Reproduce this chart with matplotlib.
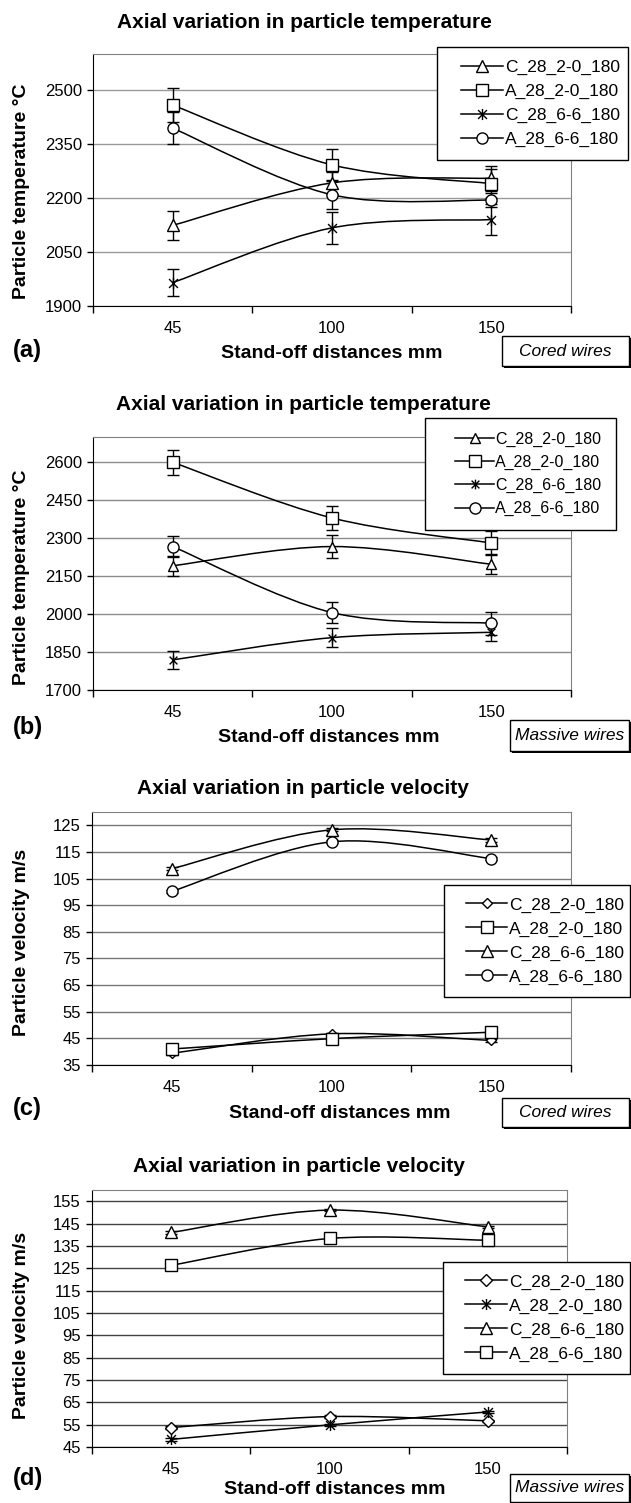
import matplotlib
matplotlib.use('Agg')
import matplotlib.pyplot as plt
from matplotlib.path import Path
from matplotlib.patches import PathPatch, Rectangle
from matplotlib.lines import Line2D

plt.rcParams['font.family'] = ['Liberation Sans', 'DejaVu Sans']

W, H = 631, 1503

distances = ['45', '100', '150']

# (a) temperature, cored wires
a_names = ['C_28_2-0_180', 'A_28_2-0_180', 'C_28_6-6_180', 'A_28_6-6_180']
a_values = [[2124, 2242, 2255], [2458, 2292, 2240], [1965, 2117, 2140], [2394, 2209, 2194]]
a_errors = [[41, 30, 35], [48, 44, 40], [38, 44, 44], [45, 40, 20]]
a_yticks = [1900, 2050, 2200, 2350, 2500]

# (b) temperature, massive wires
b_names = ['C_28_2-0_180', 'A_28_2-0_180', 'C_28_6-6_180', 'A_28_6-6_180']
b_values = [[2191, 2267, 2197], [2600, 2380, 2281], [1819, 1907, 1928], [2267, 2006, 1964]]
b_errors = [[40, 46, 40], [50, 47, 47], [36, 38, 35], [43, 40, 45]]
b_yticks = [1700, 1850, 2000, 2150, 2300, 2450, 2600]

# (c) velocity, cored wires
c_names = ['C_28_2-0_180', 'A_28_2-0_180', 'C_28_6-6_180', 'A_28_6-6_180']
c_values = [[39.4, 46.7, 44.2], [41.0, 44.9, 47.3], [108.7, 123.3, 119.5], [100.2, 118.8, 112.5]]
c_errors = [[0.5, 0.5, 0.5], [0.5, 0.5, 0.5], [0.6, 0.6, 0.6], [0.6, 0.6, 0.6]]
c_yticks = [35, 45, 55, 65, 75, 85, 95, 105, 115, 125]

# (d) velocity, massive wires
d_names = ['C_28_2-0_180', 'A_28_2-0_180', 'C_28_6-6_180', 'A_28_6-6_180']
d_values = [[53.7, 58.6, 56.7], [48.4, 54.9, 60.7], [141.0, 151.0, 143.5], [126.3, 138.3, 137.5]]
d_errors = [[0.5, 0.5, 0.5], [0.5, 0.5, 0.5], [0.6, 0.6, 0.6], [0.6, 0.6, 0.6]]
d_yticks = [45, 55, 65, 75, 85, 95, 105, 115, 125, 135, 145, 155]

# Excel-style star: an X with a vertical bar through it
STAR = Path([(0, -1), (0, 1), (-0.8, -0.8), (0.8, 0.8), (-0.8, 0.8), (0.8, -0.8)],
            [Path.MOVETO, Path.LINETO, Path.MOVETO, Path.LINETO, Path.MOVETO, Path.LINETO])


def fx(px):
    return px / W


def fy(py):
    return 1 - py / H


def smooth_path(xs, ys):
    # Excel-like smoothed line: cubic bezier through every point
    pts = list(zip(xs, ys))
    n = len(pts)
    verts = [pts[0]]
    codes = [Path.MOVETO]
    for i in range(n - 1):
        p0 = pts[i - 1] if i > 0 else pts[i]
        p1 = pts[i]
        p2 = pts[i + 1]
        p3 = pts[i + 2] if i + 2 < n else pts[i + 1]
        c1 = (p1[0] + (p2[0] - p0[0]) / 6, p1[1] + (p2[1] - p0[1]) / 6)
        c2 = (p2[0] - (p3[0] - p1[0]) / 6, p2[1] - (p3[1] - p1[1]) / 6)
        verts += [c1, c2, p2]
        codes += [Path.CURVE4] * 3
    return Path(verts, codes)


def px_box(fig, l, t, r, b, zorder, shadow=False):
    if shadow:
        fig.patches.append(Rectangle((fx(l + 2), fy(b + 2)), fx(r - l), (b - t) / H,
                                     transform=fig.transFigure, facecolor='black',
                                     edgecolor='none', figure=fig, zorder=zorder - 0.5))
    fig.patches.append(Rectangle((fx(l), fy(b)), fx(r - l), (b - t) / H,
                                 transform=fig.transFigure, facecolor='white',
                                 edgecolor='black', lw=1.0, figure=fig, zorder=zorder))


def draw_panel(fig, box, title, title_pos, ylabel, ylabel_pos, xlabel_pos,
               letter, letter_y, note, note_box, names, values, errors,
               markers, msizes, yticks, ylim, legend_box, legend_fs, grid_color):
    l, t, r, b = box
    ax = fig.add_axes([fx(l), fy(b), fx(r - l), (b - t) / H])
    x = list(range(len(distances)))
    handles = []
    for name, vals, errs, mk, ms in zip(names, values, errors, markers, msizes):
        ax.add_patch(PathPatch(smooth_path(x, vals), fill=False, edgecolor='black',
                               lw=1.1, zorder=3))
        ax.errorbar(x, vals, yerr=errs, fmt='none', ecolor='black', elinewidth=1.0,
                    capsize=4, capthick=1.0, zorder=4)
        ax.plot(x, vals, linestyle='none', marker=mk, ms=ms, mfc='white',
                mec='black', mew=1.0, zorder=5)
        handles.append(Line2D([], [], color='black', lw=1.1, marker=mk, ms=ms,
                              mfc='white', mec='black', mew=1.0, label=name))
    ax.set_xlim(-0.5, len(distances) - 0.5)
    ax.set_ylim(*ylim)
    ax.set_yticks(yticks)
    ax.set_xticks(x)
    ax.set_xticklabels(distances)
    ax.set_xticks([-0.5, 0.5, 1.5, 2.5], minor=True)
    ax.tick_params(axis='x', which='major', length=0, pad=11, labelsize=12)
    ax.tick_params(axis='x', which='minor', length=5, direction='out', width=1)
    ax.tick_params(axis='y', length=4, direction='out', width=1, labelsize=12, pad=4)
    ax.yaxis.grid(True, color=grid_color, lw=1.0)
    ax.set_axisbelow(True)
    for side in ['top', 'right']:
        ax.spines[side].set_color('#808080')
    for side in ['left', 'bottom']:
        ax.spines[side].set_color('black')

    fig.text(fx(title_pos[0]), fy(title_pos[1]), title, ha='center', va='center',
             fontsize=15, fontweight='bold')
    fig.text(fx(ylabel_pos[0]), fy(ylabel_pos[1]), ylabel, ha='center', va='center',
             rotation=90, fontsize=14, fontweight='bold')
    fig.text(fx(xlabel_pos[0]), fy(xlabel_pos[1]), 'Stand-off distances mm',
             ha='center', va='center', fontsize=14, fontweight='bold')
    fig.text(fx(13), fy(letter_y), letter, ha='left', va='center', fontsize=17,
             fontweight='bold')

    nl, nt, nr, nb = note_box
    px_box(fig, nl, nt, nr, nb, 2, shadow=True)
    fig.text(fx((nl + nr) / 2), fy((nt + nb) / 2), note, ha='center', va='center',
             fontsize=12.5, style='italic', zorder=3)

    gl, gt, gr, gb = legend_box
    px_box(fig, gl, gt, gr, gb, 4)
    fig.legend(handles=handles, loc='center',
               bbox_to_anchor=(fx(gl + 8), fy(gb), fx(gr - gl), (gb - gt) / H),
               fontsize=legend_fs, frameon=False, labelspacing=0.5,
               handlelength=2.4, handletextpad=0.1, borderaxespad=0)
    return ax


fig = plt.figure(figsize=(W / 100, H / 100), dpi=100)

draw_panel(fig, (93, 54, 571, 306), 'Axial variation in particle temperature', (304, 23),
           'Particle temperature °C', (22, 191), (332, 353), '(a)', 350,
           'Cored wires', (502, 336, 629, 366), a_names, a_values, a_errors,
           ['^', 's', STAR, 'o'], [8, 8, 8, 8], a_yticks, (1900, 2600),
           (437, 47, 628, 160), 12.5, '#999999')

draw_panel(fig, (93, 437, 571, 690), 'Axial variation in particle temperature', (303, 405),
           'Particle temperature °C', (22, 577), (329, 737), '(b)', 728,
           'Massive wires', (510, 720, 629, 751), b_names, b_values, b_errors,
           ['^', 's', STAR, 'o'], [7, 8, 7, 8], b_yticks, (1700, 2700),
           (425, 418, 616, 530), 11.5, '#8c8c8c')

draw_panel(fig, (92, 812, 571, 1065), 'Axial variation in particle velocity', (303, 789),
           'Particle velocity m/s', (22, 942), (340, 1114), '(c)', 1108,
           'Cored wires', (502, 1098, 629, 1127), c_names, c_values, c_errors,
           ['D', 's', '^', 'o'], [5, 8, 8, 8], c_yticks, (35, 130),
           (444, 885, 630, 997), 12.5, '#777777')

draw_panel(fig, (92, 1190, 567, 1447), 'Axial variation in particle velocity', (299, 1167),
           'Particle velocity m/s', (22, 1325), (335, 1490), '(d)', 1478,
           'Massive wires', (510, 1474, 629, 1502), d_names, d_values, d_errors,
           ['D', STAR, '^', 's'], [6, 8, 8, 8], d_yticks, (45, 160),
           (443, 1262, 630, 1374), 12.5, '#444444')

fig.savefig('out.png', dpi=100)
